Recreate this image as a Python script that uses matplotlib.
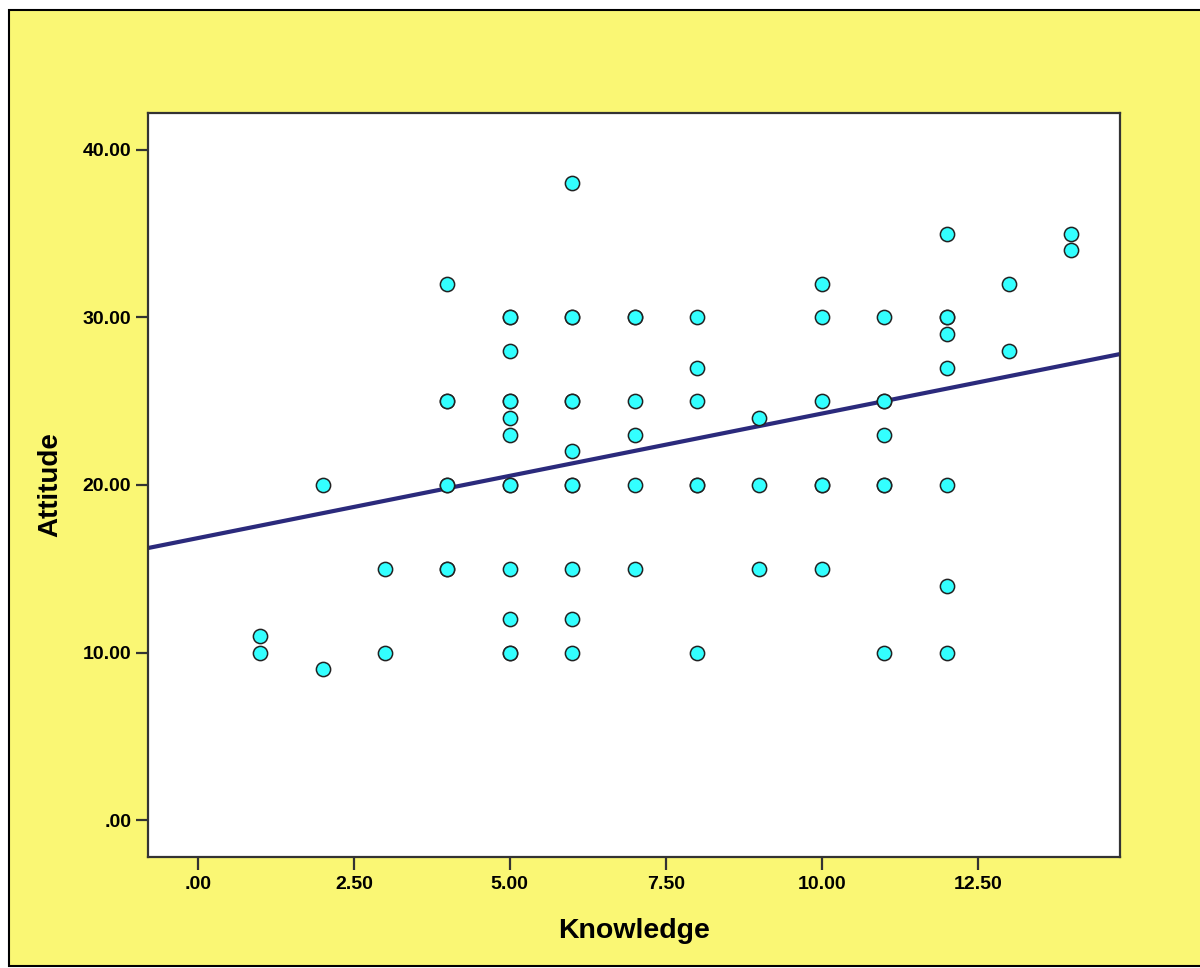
import matplotlib.pyplot as plt
from matplotlib.patches import Rectangle

# Knowledge vs Attitude (duplicates kept where the marker looks overplotted)
knowledge = [1, 1, 2, 2, 3, 3,
             4, 4, 4, 4, 4, 4, 4,
             5, 5, 5, 5, 5, 5, 5, 5, 5, 5, 5, 5, 5,
             6, 6, 6, 6, 6, 6, 6, 6, 6, 6, 6,
             7, 7, 7, 7, 7, 7,
             8, 8, 8, 8, 8, 8,
             9, 9, 9,
             10, 10, 10, 10, 10, 10,
             11, 11, 11, 11, 11, 11, 11,
             12, 12, 12, 12, 12, 12, 12, 12,
             13, 13, 14, 14]
attitude = [11, 10, 20, 9, 15, 10,
            32, 25, 25, 20, 20, 15, 15,
            30, 30, 28, 25, 25, 24, 23, 20, 20, 15, 12, 10, 10,
            38, 30, 30, 25, 25, 22, 20, 20, 15, 12, 10,
            30, 30, 25, 23, 20, 15,
            30, 27, 25, 20, 20, 10,
            24, 20, 15,
            32, 30, 25, 20, 20, 15,
            30, 25, 25, 23, 20, 20, 10,
            35, 30, 30, 29, 27, 20, 14, 10,
            32, 28, 35, 34]

# fit line
intercept = 16.83
slope = 0.743

x_ticks = [0, 2.5, 5, 7.5, 10, 12.5]
x_labels = ['.00', '2.50', '5.00', '7.50', '10.00', '12.50']
y_ticks = [0, 10, 20, 30, 40]
y_labels = ['.00', '10.00', '20.00', '30.00', '40.00']

plt.rcParams['font.family'] = ['Liberation Sans', 'DejaVu Sans']

fig = plt.figure(figsize=(12, 9.68), dpi=100)
fig.patch.set_facecolor('white')
fig.patches.append(Rectangle((9 / 1200, 2 / 968), 1 - 9 / 1200 + 0.01, 1 - 12 / 968,
                             transform=fig.transFigure, facecolor='#FAF774',
                             edgecolor='black', linewidth=1.5, zorder=-5))

ax = fig.add_axes([0.1233, 0.1147, 0.81, 0.7686])
ax.set_zorder(2)
ax.set_facecolor('white')

ax.scatter(knowledge, attitude, s=105, facecolor='#33FFFF', edgecolor='#222222',
           linewidth=1.1, zorder=3)

xlim = (-0.8, 14.78)
ax.plot(xlim, [intercept + slope * v for v in xlim], color='#2B2A7C', linewidth=3, zorder=2)

ax.set_xlim(*xlim)
ax.set_ylim(-2.2, 42.2)
ax.set_xticks(x_ticks)
ax.set_xticklabels(x_labels)
ax.set_yticks(y_ticks)
ax.set_yticklabels(y_labels)

ax.tick_params(axis='both', direction='out', length=9, width=1.6, color='#333333',
               labelsize=14)
ax.tick_params(axis='x', pad=5)
ax.tick_params(axis='y', pad=3)
for lab in ax.get_xticklabels() + ax.get_yticklabels():
    lab.set_fontweight('bold')

for side in ['left', 'bottom', 'top', 'right']:
    ax.spines[side].set_color('#333333')
    ax.spines[side].set_linewidth(1.6)

ax.set_xlabel('Knowledge', fontsize=20.5, fontweight='bold', labelpad=18)
ax.set_ylabel('Attitude', fontsize=20, fontweight='bold', labelpad=14)

plt.savefig('out.png', dpi=100, facecolor=fig.get_facecolor())
